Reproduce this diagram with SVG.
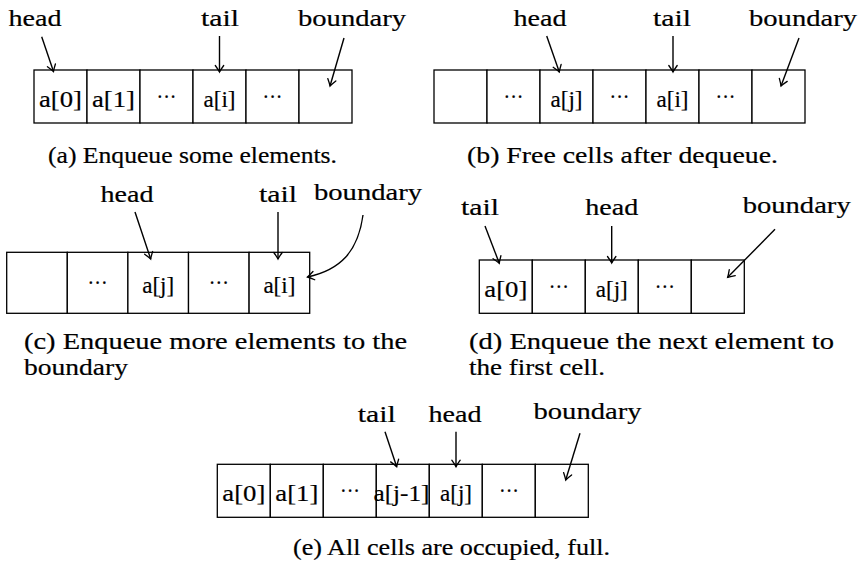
<svg xmlns="http://www.w3.org/2000/svg" width="861" height="561" viewBox="0 0 861 561">
<defs>
<style>
text{font-family:"Liberation Serif","Times New Roman",serif;font-size:24px;fill:#000;stroke:#000;stroke-width:0.2}
.c{text-anchor:middle}
.cell{fill:#fff;stroke:#000;stroke-width:1.3}
.arr{fill:none;stroke:#000;stroke-width:1.4;marker-end:url(#tip)}
</style>
<marker id="tip" markerUnits="userSpaceOnUse" markerWidth="12" markerHeight="12" refX="0" refY="0" orient="auto" overflow="visible">
<path d="M -6.5,-4.2 Q -2,-1 0,0 Q -2,1 -6.5,4.2" fill="none" stroke="#000" stroke-width="1.3" stroke-linecap="round"/>
</marker>
</defs>
<rect width="861" height="561" fill="#fff"/>

<!-- Panel (a) -->
<g id="panel-a">
<g id="a-c1"><rect class="cell" x="34" y="70" width="53" height="53"/><text class="c" x="60.5" y="107" textLength="43" lengthAdjust="spacingAndGlyphs">a[0]</text></g>
<g id="a-c2"><rect class="cell" x="87" y="70" width="53" height="53"/><text class="c" x="113.5" y="107" textLength="43" lengthAdjust="spacingAndGlyphs">a[1]</text></g>
<g id="a-c3"><rect class="cell" x="140" y="70" width="53" height="53"/><text class="c" x="166.5" y="104" textLength="20" lengthAdjust="spacingAndGlyphs">···</text></g>
<g id="a-c4"><rect class="cell" x="193" y="70" width="53" height="53"/><text class="c" x="219.5" y="107" textLength="32" lengthAdjust="spacingAndGlyphs">a[i]</text></g>
<g id="a-c5"><rect class="cell" x="246" y="70" width="53" height="53"/><text class="c" x="272.5" y="104" textLength="20" lengthAdjust="spacingAndGlyphs">···</text></g>
<g id="a-c6"><rect class="cell" x="299" y="70" width="53" height="53"/></g>
<g id="a-head"><text class="c" x="35" y="26" textLength="53" lengthAdjust="spacingAndGlyphs">head</text></g>
<g id="a-tail"><text class="c" x="220" y="26" textLength="38" lengthAdjust="spacingAndGlyphs">tail</text></g>
<g id="a-boundary"><text class="c" x="352" y="26" textLength="108" lengthAdjust="spacingAndGlyphs">boundary</text></g>
<g id="a-caption"><text x="48" y="163" textLength="289" lengthAdjust="spacingAndGlyphs">(a) Enqueue some elements.</text></g>
</g>

<!-- Panel (b) -->
<g id="panel-b">
<g id="b-c1"><rect class="cell" x="434" y="70" width="53" height="53"/></g>
<g id="b-c2"><rect class="cell" x="487" y="70" width="53" height="53"/><text class="c" x="513.5" y="104" textLength="20" lengthAdjust="spacingAndGlyphs">···</text></g>
<g id="b-c3"><rect class="cell" x="540" y="70" width="53" height="53"/><text class="c" x="566.5" y="107" textLength="32" lengthAdjust="spacingAndGlyphs">a[j]</text></g>
<g id="b-c4"><rect class="cell" x="593" y="70" width="53" height="53"/><text class="c" x="619.5" y="104" textLength="20" lengthAdjust="spacingAndGlyphs">···</text></g>
<g id="b-c5"><rect class="cell" x="646" y="70" width="53" height="53"/><text class="c" x="672.5" y="107" textLength="32" lengthAdjust="spacingAndGlyphs">a[i]</text></g>
<g id="b-c6"><rect class="cell" x="699" y="70" width="53" height="53"/><text class="c" x="725.5" y="104" textLength="20" lengthAdjust="spacingAndGlyphs">···</text></g>
<g id="b-c7"><rect class="cell" x="752" y="70" width="53" height="53"/></g>
<g id="b-head"><text class="c" x="540" y="26" textLength="53" lengthAdjust="spacingAndGlyphs">head</text></g>
<g id="b-tail"><text class="c" x="672" y="26" textLength="38" lengthAdjust="spacingAndGlyphs">tail</text></g>
<g id="b-boundary"><text class="c" x="803" y="26" textLength="108" lengthAdjust="spacingAndGlyphs">boundary</text></g>
<g id="b-caption"><text x="467" y="163" textLength="311" lengthAdjust="spacingAndGlyphs">(b) Free cells after dequeue.</text></g>
</g>

<!-- Panel (c) -->
<g id="panel-c">
<g id="c-c1"><rect class="cell" x="6.7" y="252.3" width="60.6" height="61"/></g>
<g id="c-c2"><rect class="cell" x="67.3" y="252.3" width="60.6" height="61"/><text class="c" x="97.6" y="290" textLength="20" lengthAdjust="spacingAndGlyphs">···</text></g>
<g id="c-c3"><rect class="cell" x="127.9" y="252.3" width="60.6" height="61"/><text class="c" x="158.2" y="293" textLength="32" lengthAdjust="spacingAndGlyphs">a[j]</text></g>
<g id="c-c4"><rect class="cell" x="188.5" y="252.3" width="60.6" height="61"/><text class="c" x="218.8" y="290" textLength="20" lengthAdjust="spacingAndGlyphs">···</text></g>
<g id="c-c5"><rect class="cell" x="249.1" y="252.3" width="60.6" height="61"/><text class="c" x="279.4" y="293" textLength="32" lengthAdjust="spacingAndGlyphs">a[i]</text></g>
<g id="c-head"><text class="c" x="127" y="202" textLength="53" lengthAdjust="spacingAndGlyphs">head</text></g>
<g id="c-tail"><text class="c" x="278" y="202" textLength="38" lengthAdjust="spacingAndGlyphs">tail</text></g>
<g id="c-boundary"><text class="c" x="368" y="200" textLength="108" lengthAdjust="spacingAndGlyphs">boundary</text></g>
<g id="c-caption"><text x="24" y="349" textLength="383" lengthAdjust="spacingAndGlyphs">(c) Enqueue more elements to the</text><text x="24" y="375" textLength="104" lengthAdjust="spacingAndGlyphs">boundary</text></g>
</g>

<!-- Panel (d) -->
<g id="panel-d">
<g id="d-c1"><rect class="cell" x="479.3" y="260" width="53" height="53.3"/><text class="c" x="505.8" y="297" textLength="43" lengthAdjust="spacingAndGlyphs">a[0]</text></g>
<g id="d-c2"><rect class="cell" x="532.3" y="260" width="53" height="53.3"/><text class="c" x="558.8" y="294" textLength="20" lengthAdjust="spacingAndGlyphs">···</text></g>
<g id="d-c3"><rect class="cell" x="585.3" y="260" width="53" height="53.3"/><text class="c" x="611.8" y="297" textLength="32" lengthAdjust="spacingAndGlyphs">a[j]</text></g>
<g id="d-c4"><rect class="cell" x="638.3" y="260" width="53" height="53.3"/><text class="c" x="664.8" y="294" textLength="20" lengthAdjust="spacingAndGlyphs">···</text></g>
<g id="d-c5"><rect class="cell" x="691.3" y="260" width="53" height="53.3"/></g>
<g id="d-tail"><text class="c" x="480" y="215" textLength="38" lengthAdjust="spacingAndGlyphs">tail</text></g>
<g id="d-head"><text class="c" x="611.7" y="215" textLength="53" lengthAdjust="spacingAndGlyphs">head</text></g>
<g id="d-boundary"><text class="c" x="796.7" y="213" textLength="108" lengthAdjust="spacingAndGlyphs">boundary</text></g>
<g id="d-caption"><text x="469" y="349" textLength="365" lengthAdjust="spacingAndGlyphs">(d) Enqueue the next element to</text><text x="469" y="375" textLength="136" lengthAdjust="spacingAndGlyphs">the first cell.</text></g>
</g>

<!-- Panel (e) -->
<g id="panel-e">
<g id="e-c1"><rect class="cell" x="217.3" y="464.3" width="53" height="53"/><text class="c" x="243.8" y="501" textLength="43" lengthAdjust="spacingAndGlyphs">a[0]</text></g>
<g id="e-c2"><rect class="cell" x="270.3" y="464.3" width="53" height="53"/><text class="c" x="296.8" y="501" textLength="43" lengthAdjust="spacingAndGlyphs">a[1]</text></g>
<g id="e-c3"><rect class="cell" x="323.3" y="464.3" width="53" height="53"/><text class="c" x="350" y="498" textLength="20" lengthAdjust="spacingAndGlyphs">···</text></g>
<g id="e-c4"><rect class="cell" x="376.3" y="464.3" width="53" height="53"/><text class="c" x="401.5" y="501" textLength="56" lengthAdjust="spacingAndGlyphs">a[j-1]</text></g>
<g id="e-c5"><rect class="cell" x="429.3" y="464.3" width="53" height="53"/><text class="c" x="456" y="501" textLength="32" lengthAdjust="spacingAndGlyphs">a[j]</text></g>
<g id="e-c6"><rect class="cell" x="482.3" y="464.3" width="53" height="53"/><text class="c" x="509" y="498" textLength="20" lengthAdjust="spacingAndGlyphs">···</text></g>
<g id="e-c7"><rect class="cell" x="535.3" y="464.3" width="53" height="53"/></g>
<g id="e-tail"><text class="c" x="376.7" y="422" textLength="38" lengthAdjust="spacingAndGlyphs">tail</text></g>
<g id="e-head"><text class="c" x="455" y="422" textLength="53" lengthAdjust="spacingAndGlyphs">head</text></g>
<g id="e-boundary"><text class="c" x="587.5" y="419" textLength="108" lengthAdjust="spacingAndGlyphs">boundary</text></g>
<g id="e-caption"><text x="293" y="555" textLength="317" lengthAdjust="spacingAndGlyphs">(e) All cells are occupied, full.</text></g>
</g>

<!-- Connectors -->
<g id="connectors">
<path class="arr" d="M 41.7,36.7 L 53.5,71.5"/>
<path class="arr" d="M 219.5,36 L 219.5,72"/>
<path class="arr" d="M 344,38 L 330,86"/>

<path class="arr" d="M 546.7,36 L 559.3,72"/>
<path class="arr" d="M 673,36 L 673,72"/>
<path class="arr" d="M 799,38 L 781,86"/>

<path class="arr" d="M 135,212 L 150.7,259"/>
<path class="arr" d="M 278,212 L 278,259"/>
<path class="arr" d="M 363,215 C 358,252 340,270 307.5,277"/>

<path class="arr" d="M 485,226 L 499.3,263.3"/>
<path class="arr" d="M 611.7,226 L 611.7,263"/>
<path class="arr" d="M 775,229.3 L 727.7,277.3"/>

<path class="arr" d="M 385,431.7 L 396.7,466.7"/>
<path class="arr" d="M 456,431.7 L 456,466.7"/>
<path class="arr" d="M 580,433.3 L 565.7,480"/>
</g>
</svg>
